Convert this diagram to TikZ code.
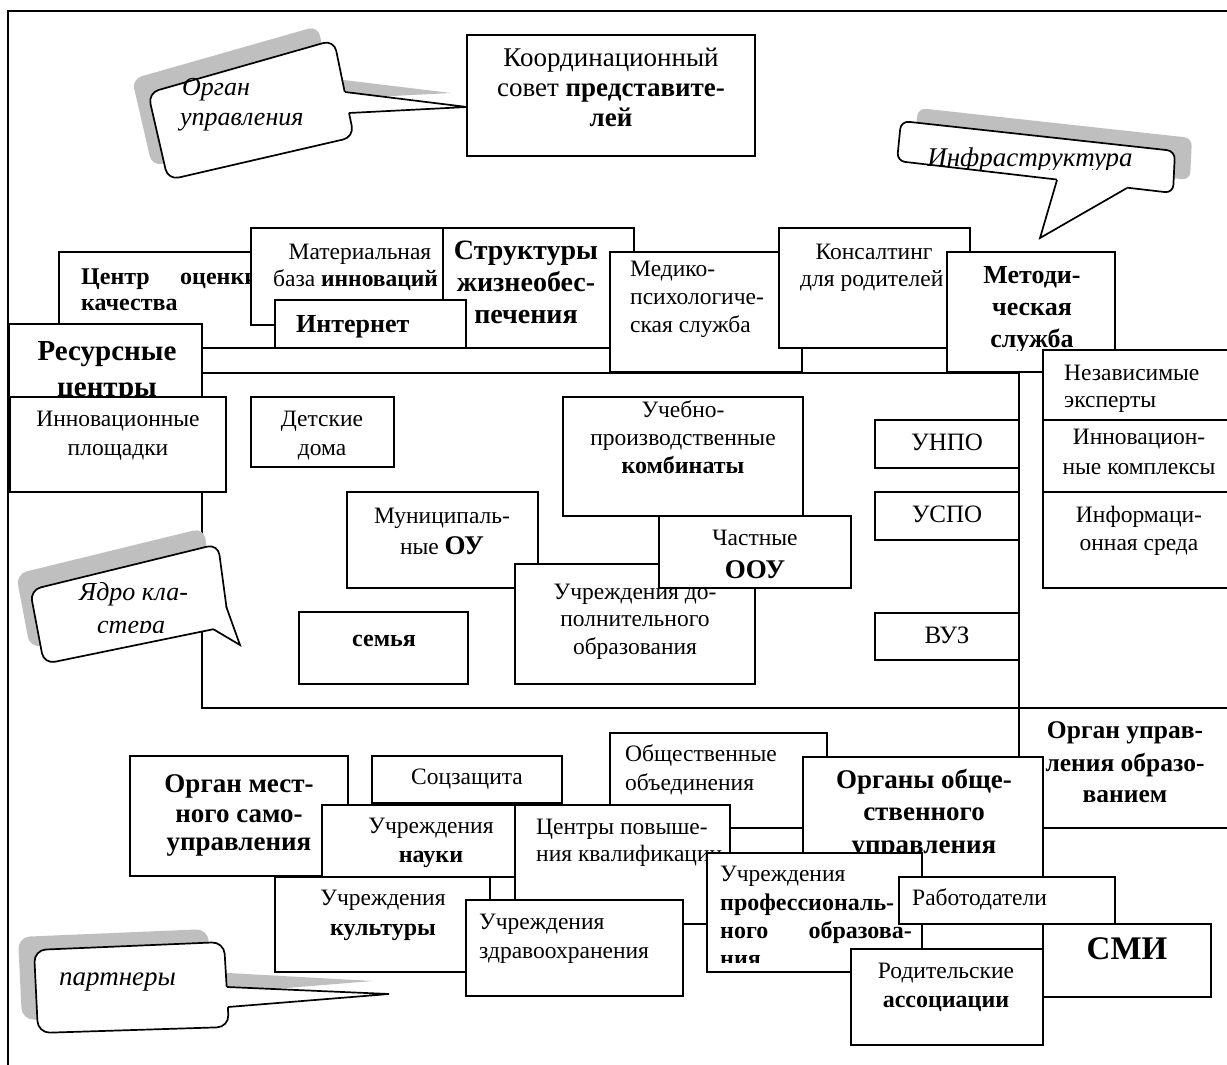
\documentclass[tikz,border=0pt]{standalone}
\usepackage{fontspec}
\setmainfont{Liberation Serif}
\tikzset{
  bx/.style={draw, fill=white, line width=1.7pt, inner sep=0pt, outer sep=0pt, anchor=north west},
  ln/.style={line width=1.7pt},
  tx/.style={inner sep=0pt, anchor=mid, font=\fontsize{23.5}{28}\selectfont},
  txl/.style={tx, anchor=mid west},
  txr/.style={tx, anchor=mid east},
  fs/.style={font=\fontsize{#1}{#1}\selectfont},
  fb/.style={font=\fontsize{#1}{#1}\selectfont\bfseries},
  fi/.style={font=\fontsize{#1}{#1}\selectfont\itshape},
  shad/.style={fill=black!25, draw=none},
  bub/.style={draw, fill=white, line width=1.7pt},
}
\newcommand\mkbox[5]{\node[bx, minimum width={(#4-#2)*1pt}, minimum height={(#5-#3)*1pt}] (#1) at (#2,#3) {};}
\newcommand\inclip[5]{\begin{scope}\clip (#1,#2) rectangle (#3,#4); #5 \end{scope}}
\begin{document}
\begin{tikzpicture}[x=1pt,y=-1pt]
\useasboundingbox (0,0) rectangle (1227,1065);
\clip (0,0) rectangle (1227,1065);
\fill[white] (0,0) rectangle (1227,1065);
% outer frame
\coordinate (fr-a) at (8,1075);
\coordinate (fr-b) at (8,11);
\coordinate (fr-c) at (1240,11);
\draw[ln] (fr-a) -- (fr-b) -- (fr-c);
% core rectangle
\coordinate (core-nw) at (202,373);
\coordinate (core-se) at (1019,708);
\draw[ln] (core-nw) rectangle (core-se);

% ---- Callout: Орган управления
\fill[shad, rounded corners=10pt] (132,79) -- (318,26) -- (338,123) -- (152,166) -- cycle;
\fill[shad] (327,78) -- (451,93) -- (333,99) -- cycle;
\draw[bub, rounded corners=11pt] (148,93) -- (334,40) -- (354,137) -- (168,180) -- cycle;
\coordinate (ou-b1) at (345,92);
\coordinate (ou-tip) at (467,107);
\coordinate (ou-b2) at (349,113);
\fill[white] (338,92) -- (ou-b1) -- (ou-tip) -- (ou-b2) -- (342,113) -- cycle;
\draw[ln, line join=miter] (ou-b1) -- (ou-tip) -- (ou-b2);
\node[txl, fi=26] (ou-t1) at (182,93) {Орган};
\node[txl, fi=26] (ou-t2) at (180,123) {управления};

% ---- Координационный совет
\mkbox{koord}{467}{35}{755}{156}
\inclip{467}{35}{755}{156}{
  \node[tx, fs=27] (koord-1) at (611,64) {Координационный};
  \node[tx, fs=27] (koord-2) at (611,94) {совет \textbf{представите-}};
  \node[tx, fb=27] (koord-3) at (611,124) {лей};
}

% ---- Callout: Инфраструктура
\fill[shad, rounded corners=8pt] (918,108) -- (1192,138) -- (1190,180) -- (914,148) -- cycle;
\draw[bub, rounded corners=8pt] (901,121) -- (1175,151) -- (1173,193) -- (897,161) -- cycle;
\coordinate (inf-b1) at (1057,180);
\coordinate (inf-tip) at (1040,238);
\coordinate (inf-b2) at (1127,188);
\fill[white] (1057,174) -- (inf-b1) -- (inf-tip) -- (inf-b2) -- (1127,182) -- cycle;
\draw[ln, line join=miter] (inf-b1) -- (inf-tip) -- (inf-b2);
\inclip{880}{100}{1200}{169}{
  \node[tx, fi=27] (inf-t) at (1030,164) {Инфраструктура};
}

% ---- top band
\mkbox{centr}{59}{252}{300}{348}
\inclip{59}{252}{300}{348}{
  \node[txl, fb=24] (centr-1) at (81,282) {Центр};
  \node[txl, fb=24] (centr-2) at (180,282) {оценки};
  \node[txl, fb=24] (centr-3) at (81,308) {качества};
}
\mkbox{mat}{251}{228}{443}{325}
\inclip{251}{228}{443}{325}{
  \node[tx] (mat-1) at (360,257) {Материальная};
  \node[txl] (mat-2) at (273,284) {база \textbf{инноваций}};
}
\mkbox{str}{443}{228}{634}{348}
\inclip{443}{228}{634}{348}{
  \node[tx, fb=28] (str-1) at (526,257) {Структуры};
  \node[tx, fb=28] (str-2) at (526,289) {жизнеобес-};
  \node[tx, fb=28] (str-3) at (526,321) {печения};
}
\mkbox{inet}{275}{300}{466}{348}
\inclip{275}{300}{466}{348}{
  \node[txl, fb=26] (inet-1) at (296,330) {Интернет};
}
\mkbox{med}{610}{252}{802}{372}
\inclip{610}{252}{802}{372}{
  \node[txl] (med-1) at (630,274) {Медико-};
  \node[txl] (med-2) at (630,302) {психологиче-};
  \node[txl] (med-3) at (630,330) {ская служба};
}
\mkbox{kons}{779}{228}{970}{348}
\inclip{779}{228}{970}{348}{
  \node[tx] (kons-1) at (874,257) {Консалтинг};
  \node[txl] (kons-2) at (800,284) {для родителей};
}
\mkbox{met}{947}{252}{1115}{372}
\inclip{947}{252}{1115}{350}{
  \node[tx, fb=26] (met-1) at (1032,281) {Методи-};
  \node[tx, fb=26] (met-2) at (1032,313) {ческая};
  \node[tx, fb=26] (met-3) at (1032,345) {служба};
}
% right column
\mkbox{nez}{1043}{350}{1240}{420}
\inclip{1043}{350}{1240}{420}{
  \node[txl] (nez-1) at (1064,378) {Независимые};
  \node[txl] (nez-2) at (1064,405) {эксперты};
}
\mkbox{ikom}{1043}{420}{1240}{492}
\inclip{1043}{420}{1240}{492}{
  \node[tx] (ikom-1) at (1139,442) {Инновацион-};
  \node[tx] (ikom-2) at (1139,472) {ные комплексы};
}
\mkbox{isr}{1043}{492}{1240}{588}
\inclip{1043}{492}{1240}{588}{
  \node[tx] (isr-1) at (1139,520) {Информаци-};
  \node[tx] (isr-2) at (1139,548) {онная среда};
}
% resource centres
\mkbox{res}{9}{324}{202}{410}
\inclip{9}{324}{202}{410}{
  \node[tx, fb=29] (res-1) at (107,358) {Ресурсные};
  \node[tx, fb=29] (res-2) at (107,394) {центры};
}
\mkbox{inpl}{10}{397}{226}{492}
\inclip{10}{397}{226}{492}{
  \node[tx] (inpl-1) at (118,424) {Инновационные};
  \node[tx] (inpl-2) at (118,453) {площадки};
}
\mkbox{det}{251}{397}{394}{467}
\inclip{251}{397}{394}{467}{
  \node[tx] (det-1) at (322,424) {Детские};
  \node[tx] (det-2) at (322,453) {дома};
}
% core contents
\mkbox{upk}{563}{397}{803}{516}
\inclip{563}{397}{803}{516}{
  \node[tx] (upk-1) at (683,415) {Учебно-};
  \node[tx] (upk-2) at (683,443) {производственные};
  \node[tx, fb=24] (upk-3) at (683,471) {комбинаты};
}
\mkbox{mun}{347}{492}{538}{588}
\inclip{347}{492}{538}{588}{
  \node[tx] (mun-1) at (442,521) {Муниципаль-};
  \node[tx] (mun-2) at (442,552) {ные {\fontsize{27}{27}\selectfont\bfseries ОУ}};
}
\mkbox{dop}{515}{564}{755}{684}
\inclip{515}{564}{755}{684}{
  \node[tx] (dop-1) at (635,597) {Учреждения до-};
  \node[tx] (dop-2) at (635,624) {полнительного};
  \node[tx] (dop-3) at (635,652) {образования};
}
\mkbox{chas}{659}{516}{851}{588}
\inclip{659}{516}{851}{578}{
  \node[tx] (chas-1) at (755,543) {Частные};
  \node[tx, fb=27] (chas-2) at (755,576) {ООУ};
}
\mkbox{sem}{299}{612}{468}{684}
\inclip{299}{612}{468}{684}{
  \node[tx, fb=24] (sem-1) at (384,644) {семья};
}
\mkbox{unpo}{875}{420}{1019}{468}
\inclip{875}{420}{1019}{468}{
  \node[tx, fs=25] (unpo-1) at (947,448) {УНПО};
}
\mkbox{uspo}{875}{492}{1019}{540}
\inclip{875}{492}{1019}{540}{
  \node[tx, fs=25] (uspo-1) at (947,520) {УСПО};
}
\mkbox{vuz}{875}{613}{1019}{660}
\inclip{875}{613}{1019}{660}{
  \node[tx, fs=25] (vuz-1) at (947,641) {ВУЗ};
}

% ---- Callout: Ядро кластера
\fill[shad, rounded corners=11pt] (16,574) -- (204,528) -- (215,610) -- (30,648) -- cycle;
\fill[shad] (212,590) -- (226,629) -- (200,613) -- cycle;
\draw[bub, rounded corners=11pt] (30,590) -- (218,544) -- (229,626) -- (44,664) -- cycle;
\coordinate (ya-b1) at (226,606);
\coordinate (ya-tip) at (240,645);
\coordinate (ya-b2) at (213,629);
\fill[white] (220,606) -- (ya-b1) -- (ya-tip) -- (ya-b2) -- (213,622) -- cycle;
\draw[ln, line join=miter] (ya-b1) -- (ya-tip) -- (ya-b2);
\inclip{30}{540}{230}{632}{
  \node[txl, fi=26] (ya-t1) at (79,598) {Ядро кла-};
  \node[txl, fi=26] (ya-t2) at (97,631) {стера};
}

% ---- bottom region
\mkbox{oupr}{1019}{708}{1240}{828}
\inclip{1019}{708}{1240}{828}{
  \node[tx, fb=25.5] (oupr-1) at (1125,736) {Орган управ-};
  \node[tx, fb=25.5] (oupr-2) at (1125,769) {ления образо-};
  \node[tx, fb=25.5] (oupr-3) at (1125,800) {ванием};
}
\mkbox{oms}{130}{756}{348}{876}
\inclip{130}{756}{348}{876}{
  \node[tx, fb=27] (oms-1) at (239,790) {Орган мест-};
  \node[tx, fb=27] (oms-2) at (239,820) {ного само-};
  \node[tx, fb=27] (oms-3) at (239,848) {управления};
}
\mkbox{soc}{372}{756}{562}{803}
\inclip{372}{756}{562}{803}{
  \node[tx] (soc-1) at (467,782) {Соцзащита};
}
\mkbox{obsh}{610}{733}{827}{828}
\inclip{610}{733}{827}{828}{
  \node[txl] (obsh-1) at (625,759) {Общественные};
  \node[txl] (obsh-2) at (625,788) {объединения};
}
\mkbox{org}{803}{757}{1043}{900}
\inclip{803}{757}{1043}{853}{
  \node[tx, fb=27] (org-1) at (924,786) {Органы обще-};
  \node[tx, fb=27] (org-2) at (924,818) {ственного};
  \node[tx, fb=27] (org-3) at (924,851) {управления};
}
\mkbox{nauk}{322}{805}{515}{877}
\inclip{322}{805}{515}{877}{
  \node[tx] (nauk-1) at (431,831) {Учреждения};
  \node[tx, fb=24] (nauk-2) at (431,860) {науки};
}
\mkbox{cpk}{515}{805}{730}{924}
\inclip{515}{805}{730}{924}{
  \node[txl] (cpk-1) at (536,832) {Центры повыше-};
  \node[txl] (cpk-2) at (536,859) {ния квалификации};
}
\mkbox{kult}{275}{877}{490}{972}
\inclip{275}{877}{490}{972}{
  \node[tx] (kult-1) at (383,903) {Учреждения};
  \node[tx, fb=24] (kult-2) at (383,933) {культуры};
}
\mkbox{zdr}{466}{900}{683}{996}
\inclip{466}{900}{683}{996}{
  \node[txl] (zdr-1) at (479,927) {Учреждения};
  \node[txl] (zdr-2) at (479,956) {здравоохранения};
}
\mkbox{prof}{707}{853}{922}{972}
\inclip{707}{853}{922}{962}{
  \node[txl] (prof-1) at (720,879) {Учреждения};
  \node[txl, fb=24] (prof-2) at (720,908) {профессиональ-};
  \node[txl, fb=24] (prof-3) at (720,936) {ного};
  \node[txr, fb=24] (prof-4) at (912,936) {образова-};
  \node[txl, fb=24] (prof-5) at (720,964) {ния};
}
\mkbox{rab}{899}{877}{1115}{924}
\inclip{899}{877}{1115}{924}{
  \node[txl] (rab-1) at (912,903) {Работодатели};
}
\mkbox{smi}{1043}{924}{1211}{997}
\inclip{1043}{924}{1211}{997}{
  \node[tx, fb=33] (smi-1) at (1127,957) {СМИ};
}
\mkbox{rod}{851}{949}{1043}{1045}
\inclip{851}{949}{1043}{1045}{
  \node[tx] (rod-1) at (946,976) {Родительские};
  \node[tx, fb=24] (rod-2) at (946,1005) {ассоциации};
}

% ---- Callout: партнеры
\fill[shad, rounded corners=12pt] (18,937) -- (208,929) -- (213,1014) -- (22,1020) -- cycle;
\fill[shad] (210,972) -- (373,981) -- (212,994) -- cycle;
\draw[bub, rounded corners=12pt] (34,950) -- (224,942) -- (229,1027) -- (38,1033) -- cycle;
\coordinate (par-b1) at (227,987);
\coordinate (par-tip) at (389,994);
\coordinate (par-b2) at (228,1007);
\fill[white] (220,987) -- (par-b1) -- (par-tip) -- (par-b2) -- (221,1007) -- cycle;
\draw[ln, line join=miter] (par-b1) -- (par-tip) -- (par-b2);
\node[txl, fi=27] (par-t) at (59,983) {партнеры};
\end{tikzpicture}
\end{document}
